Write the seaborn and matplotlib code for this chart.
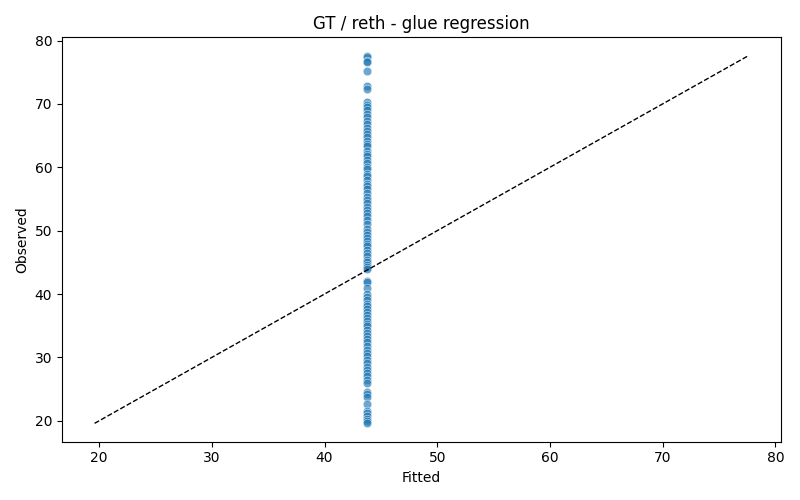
import numpy as np
import pandas as pd
import matplotlib
matplotlib.use("Agg")
import matplotlib.pyplot as plt
import seaborn as sns

observed = [77.6, 77.4, 76.8, 76.6, 75.2, 72.8, 72.3, 70.3, 69.9, 69.5, 69.0, 68.4,
            67.9, 67.3, 66.8, 66.2, 65.7, 65.2, 64.8, 64.2, 63.7, 63.3, 62.6, 62.1,
            61.7, 61.2, 60.6, 60.1, 59.7, 59.0, 58.6, 58.0, 57.4, 57.0, 56.6, 56.0,
            55.3, 54.8, 54.4, 53.8, 53.2, 52.8, 52.3, 51.7, 51.1, 50.3, 49.8, 49.3,
            48.8, 48.3, 47.9, 47.5, 47.0, 46.5, 46.0, 45.4, 45.0, 44.6, 44.2, 43.9,
            42.1, 41.9, 41.0, 40.0, 39.5, 39.0, 38.5, 38.1, 37.6, 37.2, 36.7, 36.2,
            35.8, 35.3, 34.9, 34.4, 33.9, 33.4, 32.9, 32.4, 31.8, 31.2, 30.7, 30.2,
            29.6, 29.1, 28.5, 28.0, 27.5, 27.0, 26.5, 26.0, 24.6, 24.2, 23.8, 22.6,
            21.6, 21.2, 20.8, 20.3, 19.9, 19.6]
fitted_value = 43.8

df = pd.DataFrame({"Observed": observed})
df["Fitted"] = fitted_value

fig, ax = plt.subplots(figsize=(8, 5), dpi=100)
sns.scatterplot(data=df, x="Fitted", y="Observed", ax=ax, alpha=0.65, s=38)

lo = min(df["Fitted"].min(), df["Observed"].min())
hi = max(df["Fitted"].max(), df["Observed"].max())
ax.plot([lo, hi], [lo, hi], "k--", linewidth=1)

ax.set(title="GT / reth - glue regression", xlabel="Fitted", ylabel="Observed")

plt.tight_layout()
plt.savefig("out.png")
